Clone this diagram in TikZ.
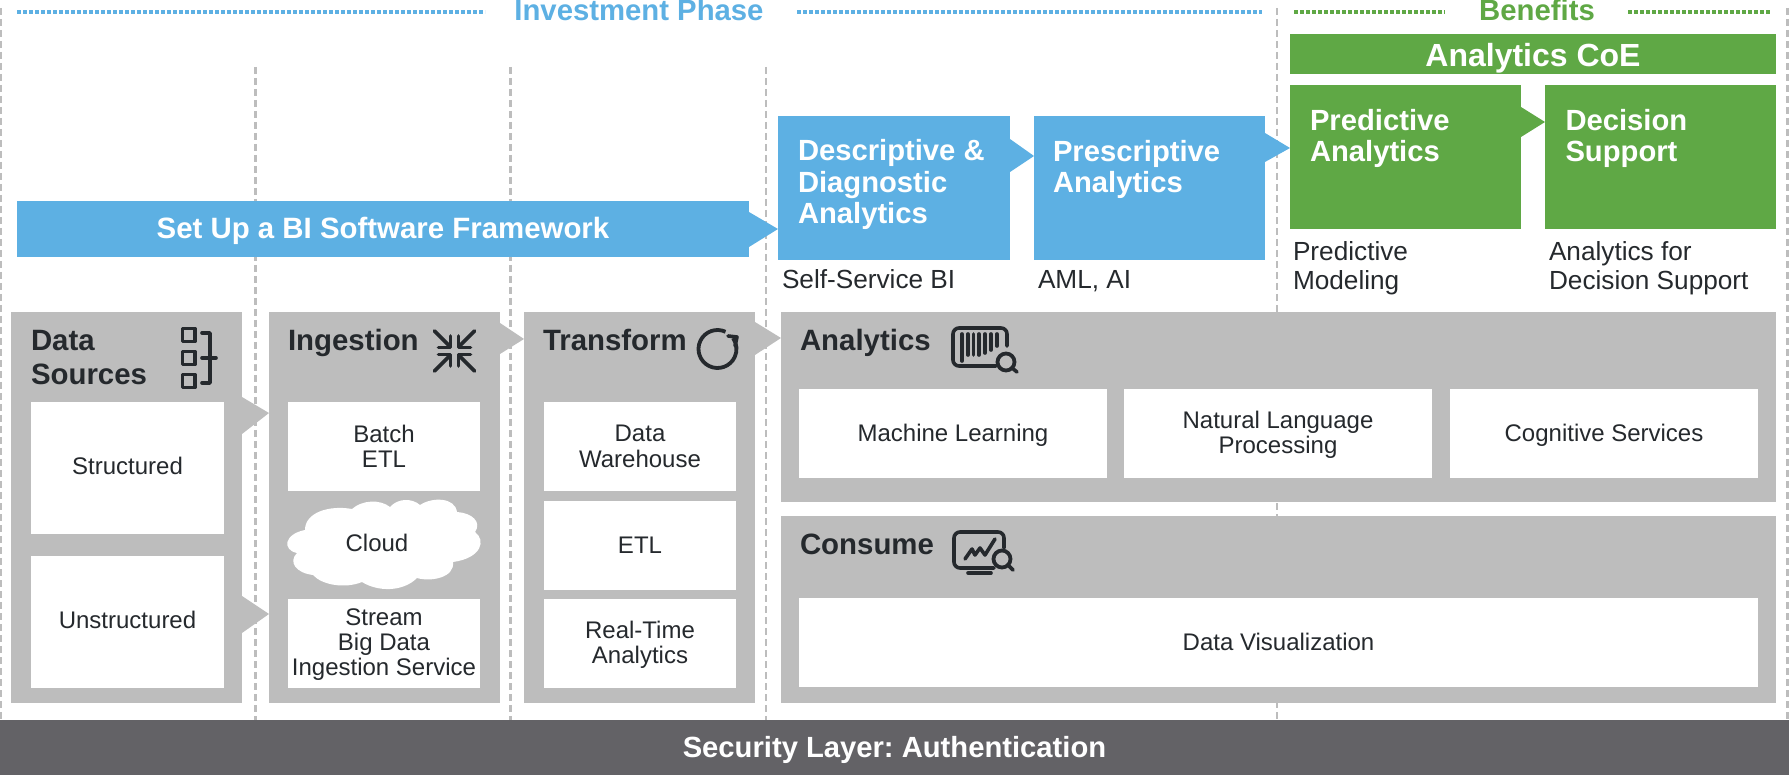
\documentclass[tikz,border=0pt]{standalone}
\usepackage{fontspec}
\setmainfont{Liberation Sans}
\frenchspacing
\definecolor{biblue}{HTML}{5DB0E3}
\definecolor{bigreen}{HTML}{5FA845}
\definecolor{panelgray}{HTML}{BDBDBD}
\definecolor{bardark}{HTML}{636266}
\definecolor{inkdark}{HTML}{25292D}
\newcommand{\rectnode}[7]{%
  \pgfmathsetmacro\rw{#5-#3}\pgfmathsetmacro\rh{#6-#4}%
  \node[#1,minimum width=\rw pt,minimum height=\rh pt,anchor=north west] (#2) at (#3,#4) {#7};}
\newcommand{\lowered}[1]{\raisebox{-1.2pt}[\height][\depth]{#1}}
\tikzset{
  x=1pt,y=-1pt,
  flat/.style={inner sep=0pt,outer sep=0pt,draw=none},
  panel/.style={flat,fill=panelgray},
  baseoff/.style={text height={20pt+#1},text depth={20pt-#1}},
  whitebox/.style={flat,fill=white,text=inkdark,align=center,font=\fontsize{24}{25.3}\selectfont},
  bluebox/.style={flat,fill=biblue,text=white,font=\fontsize{29.4}{32}\selectfont\bfseries,align=center},
  greenbox/.style={flat,fill=bigreen,text=white,font=\fontsize{29}{32}\selectfont\bfseries,align=center},
  darkbar/.style={flat,fill=bardark,text=white,font=\fontsize{29.2}{32}\selectfont\bfseries},
  headtext/.style={inner sep=0pt,outer sep=0pt,anchor=base west,align=left,text=inkdark,font=\fontsize{29.4}{34.5}\selectfont\bfseries},
  boxtitle/.style={inner sep=0pt,outer sep=0pt,anchor=base west,align=left,text=white,font=\fontsize{29.2}{31.5}\selectfont\bfseries},
  caption/.style={inner sep=0pt,outer sep=0pt,anchor=base west,align=left,text=inkdark,font=\fontsize{26.2}{29.5}\selectfont},
  phase/.style={inner sep=0pt,outer sep=0pt,anchor=base,font=\fontsize{29.3}{32}\selectfont\bfseries},
  sepline/.style={panelgray,line width=2.1pt,dash pattern=on 7pt off 4pt},
  dotline/.style={line width=4.4pt,dash pattern=on 4pt off 2pt},
  icon/.style={draw=inkdark,line width=3.8pt,fill=none,line join=round},
  thinicon/.style={draw=inkdark,line width=3.6pt,fill=none,line cap=round,line join=round},
}
\begin{document}
\begin{tikzpicture}
\useasboundingbox (0,0) rectangle (1789,775);

% separators
\draw[sepline] (1,8) -- (1,720);
\draw[sepline] (255.5,67) -- (255.5,720);
\draw[sepline] (510.5,67) -- (510.5,720);
\draw[sepline] (766,67) -- (766,720);
\draw[sepline] (1277,8) -- (1277,720);
\draw[sepline] (1787.5,8) -- (1787.5,720);

% phase headers
\draw[dotline,biblue] (17,12.3) -- (485,12.3);
\draw[dotline,biblue] (797,12.3) -- (1262,12.3);
\draw[dotline,bigreen] (1294,12.3) -- (1445,12.3);
\draw[dotline,bigreen] (1628,12.3) -- (1770,12.3);
\node[phase,text=biblue] (investment) at (639,21) {Investment Phase};
\node[phase,text=bigreen] (benefits) at (1537,20.5) {Benefits};

% panels
\rectnode{panel}{ds}{11}{312}{242}{703}{}
\rectnode{panel}{ing}{269}{312}{500}{703}{}
\rectnode{panel}{trf}{524}{312}{755}{703}{}
\rectnode{panel}{ana}{781}{312}{1775.5}{502}{}
\rectnode{panel}{con}{781}{516}{1775.5}{703}{}

% panel arrows
\fill[panelgray] (ds.east |- 0,397) -- (ing.west |- 0,413) -- (ds.east |- 0,434) -- cycle;
\fill[panelgray] (ds.east |- 0,596) -- (ing.west |- 0,614) -- (ds.east |- 0,633) -- cycle;
\fill[panelgray] (ing.east |- 0,323) -- (trf.west |- 0,339) -- (ing.east |- 0,354) -- cycle;
\fill[panelgray] (trf.east |- 0,322) -- (ana.west |- 0,338) -- (trf.east |- 0,355) -- cycle;

% white boxes
\rectnode{whitebox,baseoff=7pt}{structured}{31}{402}{224}{534}{Structured}
\rectnode{whitebox,baseoff=6pt}{unstructured}{31}{556}{224}{688}{Unstructured}
\rectnode{whitebox}{batch}{288}{402}{480}{491}{Batch\\ETL}
\rectnode{whitebox}{stream}{288}{599}{480}{688}{\lowered{Stream}\\\lowered{Big Data}\\\lowered{Ingestion Service}}
\rectnode{whitebox}{dw}{544}{402}{736}{491}{Data\\Warehouse}
\rectnode{whitebox}{etl}{544}{501}{736}{590}{ETL}
\rectnode{whitebox}{rta}{544}{599}{736}{688}{\lowered{Real-Time}\\\lowered{Analytics}}
\rectnode{whitebox,baseoff=8pt}{ml}{799}{389}{1107}{478}{Machine Learning}
\rectnode{whitebox}{nlp}{1124}{389}{1432}{478}{\lowered{Natural Language}\\\lowered{Processing}}
\rectnode{whitebox,baseoff=8pt}{cog}{1450}{389}{1758}{478}{Cognitive Services}
\rectnode{whitebox,baseoff=7.5pt}{dv}{799}{598}{1758}{687}{Data Visualization}

% cloud
\fill[white] (305,530)
  .. controls (305,512) and (330,505) .. (352,509)
  .. controls (362,500) and (380,499) .. (390,507)
  .. controls (398,498) and (412,498) .. (420,505)
  .. controls (432,497) and (455,497) .. (457,512)
  .. controls (472,513) and (482,522) .. (475,532)
  .. controls (486,540) and (482,558) .. (453,562)
  .. controls (455,578) and (430,582) .. (417,578)
  .. controls (403,592) and (378,592) .. (362,582)
  .. controls (345,589) and (322,585) .. (313,575)
  .. controls (296,573) and (288,562) .. (297,553)
  .. controls (282,550) and (284,534) .. (305,530) -- cycle;
\node[inner sep=0pt,text=inkdark,font=\fontsize{24}{25.3}\selectfont] (cloudtext) at (377,543) {Cloud};

% panel headings
\node[headtext] (dstitle) at (31,385) {Data\\Sources};
\node[headtext] (ingtitle) at (288,351) {Ingestion};
\node[headtext] (trftitle) at (543,351) {Transform};
\node[headtext] (anatitle) at (800,351) {Analytics};
\node[headtext] (contitle) at (800,554) {Consume};

% data sources icon
\foreach \yy in {327,350,373}
  \draw[icon] (182.5,\yy+1.5) rectangle (195,\yy+14.5);
\draw[thinicon] (202,333) -- (210,333) -- (210,383) -- (202,383);
\draw[thinicon] (202,358) -- (216,358);

% ingestion icon
\foreach \sx in {1,-1}\foreach \sy in {1,-1}{
  \begin{scope}[shift={(454.5,351)},xscale=\sx,yscale=\sy]
    \draw[thinicon] (-16,-3.6) -- (-4,-3.6) -- (-4,-15);
    \draw[thinicon] (-20,-20) -- (-5,-5);
  \end{scope}}

% transform icon
\draw[icon] ([shift={(65:19pt)}]717.5,349) arc[start angle=65,end angle=395,radius=19pt];
\draw[thinicon] (728,336) -- (737,337) -- (735,346);

% analytics icon
\draw[thinicon,rounded corners=6pt] (1007,346) -- (1007,328) -- (953,328) -- (953,366) -- (996,366);
\foreach \xx/\yy in {962/361,968/355,973.5/355,979/355,985/353,991/350,997/346}
  \draw[thinicon] (\xx,334) -- (\xx,\yy);
\draw[icon] (1006,362) circle[radius=8.5pt];
\draw[thinicon] (1012,368) -- (1017,372);

% consume icon
\draw[thinicon,rounded corners=6pt] (1004,548) -- (1004,532) -- (954,532) -- (954,568) -- (994,568);
\draw[thinicon] (968,573) -- (991,573);
\draw[thinicon] (965,559) -- (972,549) -- (975,555) -- (980,548) -- (985,555) -- (995,539);
\draw[icon] (1002,559) circle[radius=8.5pt];
\draw[thinicon] (1008,565) -- (1013,570);

% blue elements
\rectnode{bluebox,baseoff=9.5pt}{setup}{17}{201}{749}{257}{Set Up a BI Software Framework}
\rectnode{bluebox}{desc}{778}{116}{1010}{260}{}
\rectnode{bluebox}{presc}{1034}{116}{1265}{260}{}
\fill[biblue] (setup.east |- 0,212) -- (desc.west |- 0,229) -- (setup.east |- 0,247) -- cycle;
\fill[biblue] (desc.east |- 0,139) -- (presc.west |- 0,156) -- (desc.east |- 0,172) -- cycle;

% green elements
\rectnode{greenbox,baseoff=13pt}{coe}{1290}{34}{1776}{74}{\fontsize{32}{34}\selectfont Analytics CoE}
\rectnode{greenbox}{pred}{1290}{85}{1521}{229}{}
\rectnode{greenbox}{dec}{1545}{85}{1775.5}{229}{}
\fill[bigreen] (pred.east |- 0,107) -- (dec.west |- 0,122) -- (pred.east |- 0,137) -- cycle;
\fill[biblue] (presc.east |- 0,133) -- (pred.west |- 0,148) -- (presc.east |- 0,162) -- cycle;

% titles in boxes
\node[boxtitle] (desctitle) at (798,224) {Descriptive \&\\Diagnostic\\Analytics};
\node[boxtitle] (presctitle) at (1053,193) {Prescriptive\\Analytics};
\node[boxtitle] (predtitle) at (1310,162) {Predictive\\Analytics};
\node[boxtitle] (dectitle) at (1565.5,162) {Decision\\Support};

% captions
\node[caption] (selfbi) at (782,288.5) {Self-Service BI};
\node[caption] (aml) at (1038,288.5) {AML, AI};
\node[caption] (predcap) at (1293,290) {Predictive\\Modeling};
\node[caption] (deccap) at (1549,290) {Analytics for\\Decision Support};

% security bar
\rectnode{darkbar,baseoff=10pt}{sec}{0}{720}{1789}{775}{Security Layer: Authentication}
\end{tikzpicture}
\end{document}
